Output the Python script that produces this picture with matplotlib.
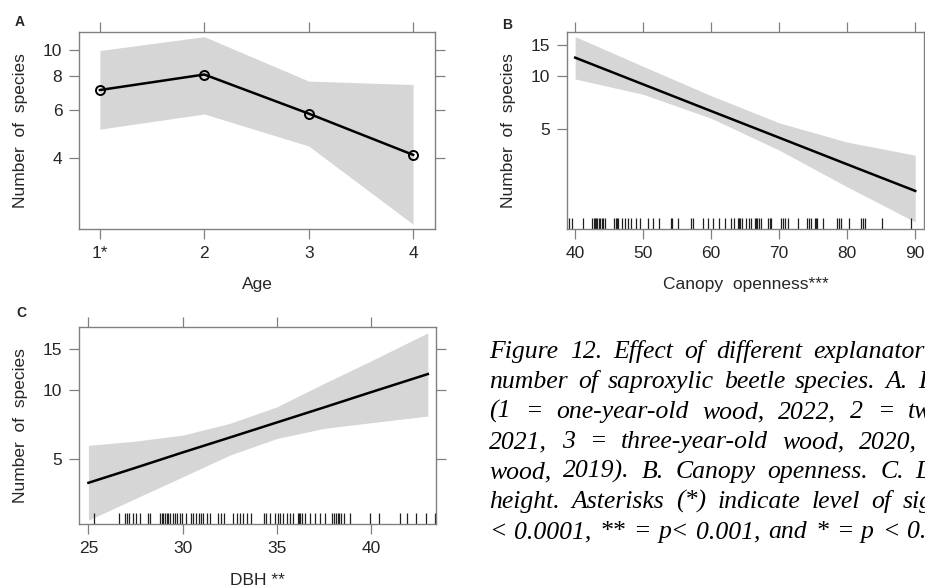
import numpy as np
import matplotlib.pyplot as plt
from matplotlib.ticker import FixedLocator, NullLocator, FixedFormatter

plt.rcParams['font.family'] = ['Liberation Sans', 'DejaVu Sans']

# ---- Painel A: idade da madeira ----
idade = [1, 2, 3, 4]
idade_rotulos = ['1*', '2', '3', '4']
idade_ajuste = [7.13, 8.13, 5.84, 4.12]
idade_sup = [9.96, 11.2, 7.69, 7.47]
idade_inf = [5.12, 5.82, 4.44, 2.29]

# ---- Painel B: abertura do dossel ----
dossel_x = [40, 50, 60, 70, 80, 90]
dossel_ajuste = [12.66, 8.93, 6.30, 4.45, 3.14, 2.22]
dossel_sup = [16.66, 11.3, 7.7, 5.4, 4.2, 3.54]
dossel_inf = [9.58, 7.84, 5.73, 3.78, 2.34, 1.48]
dossel_rug = [39.07, 39.46, 41.18, 42.5, 42.7, 42.89, 43.09, 43.28, 43.48, 43.68,
              43.87, 44.07, 44.36, 45.74, 45.93, 46.13, 46.32, 46.81, 47.3, 47.7,
              48.28, 48.97, 49.51, 50.64, 51.47, 52.3, 54.07, 54.26, 55.15, 57.1,
              57.3, 58.82, 59.56, 60.29, 61.13, 62.01, 62.89, 63.38, 63.87, 64.07,
              64.26, 64.46, 65.15, 65.49, 65.88, 66.37, 66.57, 66.76, 66.96, 67.25,
              68.33, 68.63, 68.82, 70.29, 70.59, 70.88, 71.27, 72.75, 74.12, 74.31,
              74.71, 75.2, 75.39, 75.59, 76.47, 78.53, 78.73, 79.12, 80.2, 82.06,
              82.35, 82.65, 85.1, 89.41]

# ---- Painel C: DAP ----
dap_x = [25, 27.5, 30, 32.5, 35, 37.5, 40, 43]
dap_ajuste = [3.95, 4.59, 5.35, 6.21, 7.22, 8.39, 9.77, 11.7]
dap_sup = [5.74, 5.99, 6.36, 7.15, 8.44, 10.66, 13.36, 17.66]
dap_inf = [2.72, 3.38, 4.19, 5.21, 6.15, 6.80, 7.2, 7.69]
dap_rug = [25.27, 26.64, 26.94, 27.03, 27.17, 27.39, 27.53, 27.74, 28.18, 28.27,
           28.8, 28.89, 28.98, 29.06, 29.15, 29.24, 29.33, 29.47, 29.58, 29.72,
           29.86, 29.95, 30.18, 30.42, 30.57, 30.71, 30.85, 30.95, 31.1, 31.27,
           31.45, 31.89, 32.01, 32.19, 32.69, 32.86, 33.04, 33.22, 33.39, 33.6,
           34.29, 34.43, 34.61, 34.91, 35.04, 35.18, 35.32, 35.53, 35.67, 35.85,
           36.1, 36.17, 36.24, 36.31, 36.5, 36.77, 37.03, 37.3, 37.56, 37.92,
           38.04, 38.14, 38.22, 38.29, 38.39, 38.53, 38.89, 39.91, 40.39, 41.54,
           41.89, 42.39, 42.92, 43.39]

# legenda da figura, cortada na borda direita como no original
legenda = [
    'Figure 12. Effect of different explanator',
    'number of saproxylic beetle species. A. D',
    '(1 = one-year-old wood, 2022, 2 = tw',
    '2021, 3 = three-year-old wood, 2020,',
    'wood, 2019). B. Canopy openness. C. D',
    'height. Asterisks (*) indicate level of sig',
    '< 0.0001, ** = p< 0.001, and * = p < 0.',
]
# espaco entre palavras (px) de cada linha justificada
espacos = [11.4, 10.0, 13.9, 14.4, 11.8, 11.5, 7.8]

cinza = '#808080'
texto = '#262626'
faixa = '#d6d6d6'


def estilo(ax, yticks, ylim):
    ax.set_yscale('log')
    ax.set_ylim(ylim)
    ax.yaxis.set_major_locator(FixedLocator(yticks))
    ax.yaxis.set_major_formatter(FixedFormatter([str(t) for t in yticks]))
    ax.yaxis.set_minor_locator(NullLocator())
    for s in ax.spines.values():
        s.set_color(cinza)
        s.set_linewidth(1.0)
    ax.tick_params(axis='both', which='major', direction='out', length=7,
                   width=0.9, color=cinza, labelsize=12.5, labelcolor=texto,
                   top=True, right=True, pad=5)
    ax.set_ylabel('Number  of  species', fontsize=12.5, color=texto, labelpad=11)


fig = plt.figure(figsize=(9.25, 5.87), dpi=100)
W, H = 925, 587

# A
axA = fig.add_axes([0.0854, 0.6099, 0.3849, 0.3356])
axA.fill_between(idade, idade_inf, idade_sup, color=faixa, lw=0)
axA.plot(idade, idade_ajuste, color='black', lw=1.8, marker='o', ms=6.5,
         mfc='none', mec='black', mew=1.4)
estilo(axA, [4, 6, 8, 10], (2.2, 11.65))
axA.set_xlim(0.8, 4.21)
axA.set_xticks(idade)
axA.set_xticklabels(idade_rotulos)
axA.set_xlabel('Age', fontsize=12.5, color=texto, labelpad=12)
fig.text(0.0216, 0.962, 'A', fontsize=10, fontweight='bold', color=texto,
         ha='center', va='center')

# B
axB = fig.add_axes([0.613, 0.6099, 0.386, 0.3356])
axB.fill_between(dossel_x, dossel_inf, dossel_sup, color=faixa, lw=0)
axB.plot(dossel_x, dossel_ajuste, color='black', lw=1.8)
axB.vlines(dossel_rug, 0, 0.055, transform=axB.get_xaxis_transform(),
           color='#202020', lw=0.9)
estilo(axB, [5, 10, 15], (1.35, 17.7))
axB.set_xlim(38.8, 91.3)
axB.set_xticks(dossel_x)
axB.set_xlabel('Canopy  openness***', fontsize=12.5, color=texto, labelpad=12)
fig.text(0.5478, 0.957, 'B', fontsize=10, fontweight='bold', color=texto,
         ha='center', va='center')

# C
axC = fig.add_axes([0.0854, 0.1068, 0.3859, 0.3356])
axC.fill_between(dap_x, dap_inf, dap_sup, color=faixa, lw=0)
axC.plot(dap_x, dap_ajuste, color='black', lw=1.8)
axC.vlines(dap_rug, 0, 0.055, transform=axC.get_xaxis_transform(),
           color='#202020', lw=0.9)
estilo(axC, [5, 10, 15], (2.61, 18.66))
axC.set_xlim(24.5, 43.43)
axC.set_xticks([25, 30, 35, 40])
axC.set_xlabel('DBH **', fontsize=12.5, color=texto, labelpad=12)
fig.text(0.0234, 0.467, 'C', fontsize=10, fontweight='bold', color=texto,
         ha='center', va='center')

# texto justificado: cada palavra posta depois da anterior
renderer = fig.canvas.get_renderer()
for i, linha in enumerate(legenda):
    x = 489.3
    y = 1 - (358 + 30 * i) / H
    for palavra in linha.split(' '):
        t = fig.text(x / W, y, palavra, fontsize=18.5, family='Liberation Serif',
                     style='italic', color='black', ha='left', va='baseline')
        bb = t.get_window_extent(renderer)
        x = bb.x1 + espacos[i]

fig.savefig('out.png', dpi=100)
